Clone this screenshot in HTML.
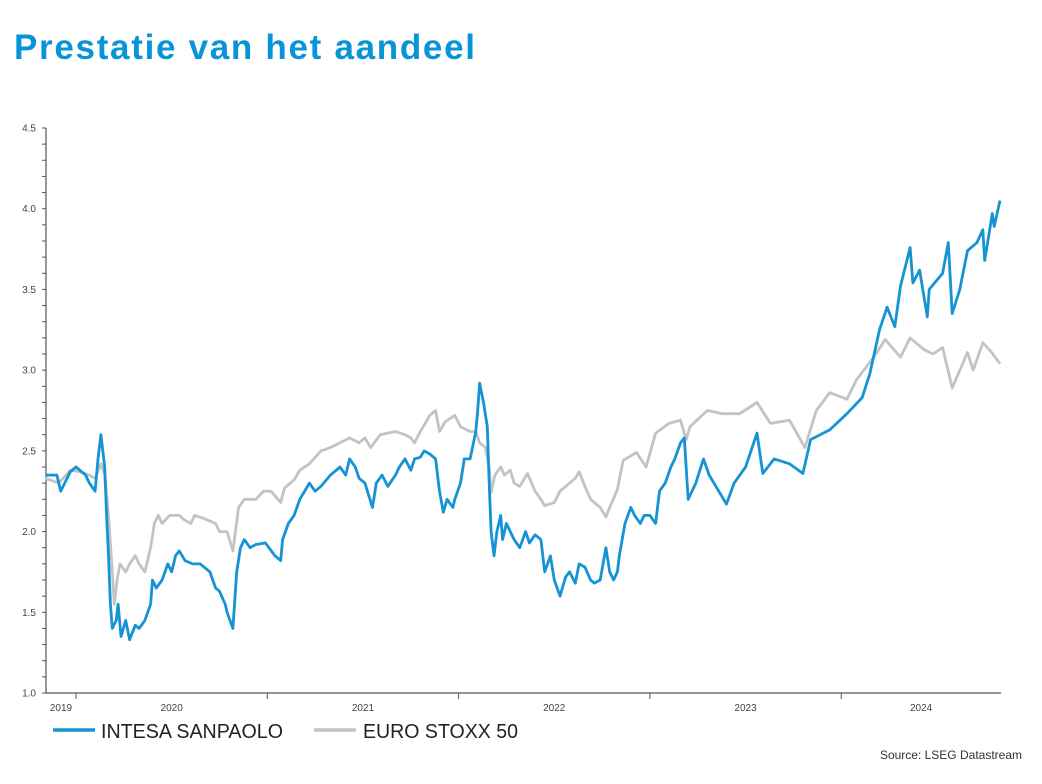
<!DOCTYPE html>
<html><head><meta charset="utf-8"><style>
body{margin:0;background:#fff;width:1042px;height:784px;overflow:hidden;font-family:"Liberation Sans",sans-serif}
#title{position:absolute;left:14px;top:28px;font-size:35px;font-weight:bold;color:#0a94d8;letter-spacing:1.7px}
#chart{position:absolute;left:0;top:0}
#src{position:absolute;right:20px;top:748px;font-size:12px;color:#333}
</style></head><body>
<div id="title">Prestatie van het aandeel</div>
<svg id="chart" width="1042" height="784"></svg>
<div id="src">Source: LSEG Datastream</div>
<script>
const intesaDates=[2019.84,2019.90,2019.92,2019.97,2020.00,2020.05,2020.07,2020.10,2020.115,2020.13,2020.15,2020.16,2020.17,2020.18,2020.19,2020.21,2020.22,2020.235,2020.26,2020.28,2020.31,2020.33,2020.36,2020.39,2020.40,2020.42,2020.45,2020.48,2020.50,2020.52,2020.54,2020.57,2020.61,2020.65,2020.70,2020.73,2020.75,2020.78,2020.79,2020.82,2020.84,2020.86,2020.88,2020.91,2020.94,2020.99,2021.04,2021.07,2021.08,2021.11,2021.14,2021.17,2021.22,2021.25,2021.28,2021.33,2021.38,2021.41,2021.43,2021.46,2021.48,2021.51,2021.55,2021.57,2021.60,2021.63,2021.67,2021.69,2021.72,2021.75,2021.77,2021.80,2021.82,2021.85,2021.88,2021.90,2021.92,2021.94,2021.97,2021.98,2022.01,2022.03,2022.06,2022.09,2022.10,2022.11,2022.13,2022.15,2022.16,2022.17,2022.185,2022.20,2022.22,2022.23,2022.25,2022.27,2022.29,2022.32,2022.35,2022.37,2022.40,2022.43,2022.45,2022.48,2022.50,2022.53,2022.56,2022.58,2022.61,2022.63,2022.66,2022.69,2022.71,2022.74,2022.77,2022.79,2022.81,2022.83,2022.84,2022.87,2022.90,2022.92,2022.95,2022.97,2023.00,2023.03,2023.05,2023.08,2023.11,2023.13,2023.16,2023.18,2023.20,2023.24,2023.28,2023.31,2023.36,2023.40,2023.44,2023.50,2023.56,2023.59,2023.65,2023.73,2023.80,2023.84,2023.94,2024.03,2024.11,2024.15,2024.20,2024.24,2024.28,2024.31,2024.36,2024.375,2024.41,2024.45,2024.46,2024.53,2024.56,2024.58,2024.62,2024.66,2024.71,2024.74,2024.75,2024.79,2024.80,2024.83];
const intesaValues=[2.35,2.35,2.25,2.37,2.40,2.35,2.30,2.25,2.45,2.60,2.40,2.10,1.85,1.55,1.40,1.45,1.55,1.35,1.45,1.33,1.42,1.40,1.45,1.55,1.70,1.65,1.70,1.80,1.75,1.85,1.88,1.82,1.80,1.80,1.75,1.65,1.63,1.55,1.50,1.40,1.75,1.90,1.95,1.90,1.92,1.93,1.85,1.82,1.95,2.05,2.10,2.20,2.30,2.25,2.28,2.35,2.40,2.35,2.45,2.40,2.33,2.30,2.15,2.30,2.35,2.28,2.35,2.40,2.45,2.38,2.45,2.46,2.50,2.48,2.45,2.25,2.12,2.20,2.15,2.20,2.30,2.45,2.45,2.62,2.75,2.92,2.80,2.65,2.30,2.00,1.85,2.00,2.10,1.95,2.05,2.00,1.95,1.90,2.00,1.93,1.98,1.95,1.75,1.85,1.70,1.60,1.72,1.75,1.68,1.80,1.78,1.70,1.68,1.70,1.90,1.75,1.70,1.75,1.85,2.05,2.15,2.10,2.05,2.10,2.10,2.05,2.25,2.30,2.40,2.45,2.55,2.58,2.20,2.30,2.45,2.35,2.25,2.17,2.30,2.40,2.61,2.36,2.45,2.42,2.36,2.57,2.63,2.73,2.83,2.98,3.25,3.39,3.27,3.52,3.76,3.54,3.62,3.33,3.50,3.60,3.79,3.35,3.50,3.74,3.79,3.87,3.68,3.97,3.89,4.05];
const stoxxDates=[2019.84,2019.91,2019.97,2020.02,2020.07,2020.10,2020.13,2020.15,2020.17,2020.19,2020.20,2020.215,2020.23,2020.26,2020.28,2020.31,2020.33,2020.36,2020.39,2020.41,2020.43,2020.45,2020.49,2020.54,2020.57,2020.60,2020.62,2020.67,2020.73,2020.75,2020.79,2020.82,2020.85,2020.88,2020.94,2020.98,2021.02,2021.07,2021.09,2021.14,2021.17,2021.22,2021.28,2021.33,2021.38,2021.43,2021.48,2021.51,2021.54,2021.59,2021.67,2021.72,2021.75,2021.77,2021.80,2021.85,2021.88,2021.90,2021.93,2021.98,2022.01,2022.06,2022.09,2022.11,2022.14,2022.16,2022.17,2022.19,2022.22,2022.24,2022.27,2022.29,2022.32,2022.36,2022.40,2022.43,2022.45,2022.50,2022.53,2022.58,2022.61,2022.63,2022.66,2022.69,2022.71,2022.74,2022.77,2022.79,2022.83,2022.86,2022.93,2022.98,2023.03,2023.10,2023.16,2023.19,2023.21,2023.30,2023.38,2023.47,2023.56,2023.63,2023.73,2023.81,2023.87,2023.94,2024.03,2024.08,2024.17,2024.23,2024.31,2024.36,2024.43,2024.48,2024.53,2024.58,2024.66,2024.69,2024.74,2024.78,2024.83];
const stoxxValues=[2.33,2.30,2.38,2.37,2.35,2.33,2.42,2.35,2.10,1.75,1.55,1.70,1.80,1.75,1.80,1.85,1.80,1.75,1.90,2.05,2.10,2.05,2.10,2.10,2.07,2.05,2.10,2.08,2.05,2.00,2.00,1.88,2.15,2.20,2.20,2.25,2.25,2.18,2.27,2.32,2.38,2.42,2.50,2.52,2.55,2.58,2.55,2.58,2.52,2.60,2.62,2.60,2.58,2.55,2.62,2.72,2.75,2.62,2.68,2.72,2.65,2.62,2.62,2.55,2.52,2.40,2.24,2.35,2.40,2.35,2.38,2.30,2.28,2.36,2.25,2.20,2.16,2.18,2.25,2.30,2.33,2.37,2.28,2.20,2.18,2.15,2.09,2.15,2.26,2.44,2.49,2.40,2.61,2.67,2.69,2.57,2.65,2.75,2.73,2.73,2.80,2.67,2.69,2.52,2.75,2.86,2.82,2.94,3.08,3.19,3.08,3.20,3.13,3.10,3.14,2.89,3.11,3.00,3.17,3.12,3.04];
const yTickLabels=["1.0","1.5","2.0","2.5","3.0","3.5","4.0","4.5"];
const yearLabels=["2019","2020","2021","2022","2023","2024"];

const NS="http://www.w3.org/2000/svg";
const svg=document.getElementById('chart');
const X0=46,X1=1001,Y0=693,Y1=128;
const xScale=t=>76+(t-2020)*191.3;
const yScale=v=>Y0-(v-1.0)/3.5*(Y0-Y1);
function mk(tag,attrs){const e=document.createElementNS(NS,tag);for(const k in attrs)e.setAttribute(k,attrs[k]);svg.appendChild(e);return e;}

let ax=mk('line',{x1:X0,y1:Y1,x2:X0,y2:Y0,stroke:'#555','stroke-width':1.2});


let bx=mk('line',{x1:X0,y1:Y0,x2:X1,y2:Y0,stroke:'#555','stroke-width':1.2});



for(let i=0;i<=35;i++){const v=1+i*0.1;const y=yScale(v);
 const t=mk('line',{x1:X0-4,y1:y,x2:X0,y2:y,stroke:'#555','stroke-width':1});
 
 }
yTickLabels.forEach(s=>{const y=yScale(parseFloat(s));
 const t=mk('text',{x:X0-10,y:y+3.5,'text-anchor':'end','font-size':10,fill:'#444','font-family':'Liberation Sans, sans-serif'});
 t.textContent=s;
 
 });

yearLabels.forEach((s,i)=>{const yr=parseInt(s);
 if(i>0){const x=xScale(yr);const t=mk('line',{x1:x,y1:Y0,x2:x,y2:Y0+6,stroke:'#555','stroke-width':1});
  
  }
 const a=Math.max(X0,xScale(yr)),b=Math.min(X1,xScale(yr+1));
 const l=mk('text',{x:(a+b)/2,y:711,'text-anchor':'middle','font-size':10,fill:'#444','font-family':'Liberation Sans, sans-serif'});
 l.textContent=s;
 
 });

function line(d,v,color,name){const p=d.map((t,i)=>(i?'L':'M')+xScale(t).toFixed(1)+' '+yScale(v[i]).toFixed(1)).join(' ');
 const e=mk('path',{d:p,fill:'none',stroke:color,'stroke-width':2.8,'stroke-linejoin':'round'});
 
 }
line(stoxxDates,stoxxValues,'#c3c3c3','euro-stoxx-50-line');
line(intesaDates,intesaValues,'#1593d3','intesa-sanpaolo-line');

function legend(x,tx,w,color,label,name){
 const l=mk('line',{x1:x,y1:730,x2:x+42,y2:730,stroke:color,'stroke-width':3.5});
 
 
 const t=mk('text',{x:tx,y:738,'font-size':20,fill:'#222','font-family':'Liberation Sans, sans-serif',textLength:w,lengthAdjust:'spacingAndGlyphs'});
 t.textContent=label;
 
 }
legend(53,101,182,'#1593d3','INTESA SANPAOLO','legend-intesa');
legend(314,363,155,'#c3c3c3','EURO STOXX 50','legend-stoxx');
</script>
</body></html>
